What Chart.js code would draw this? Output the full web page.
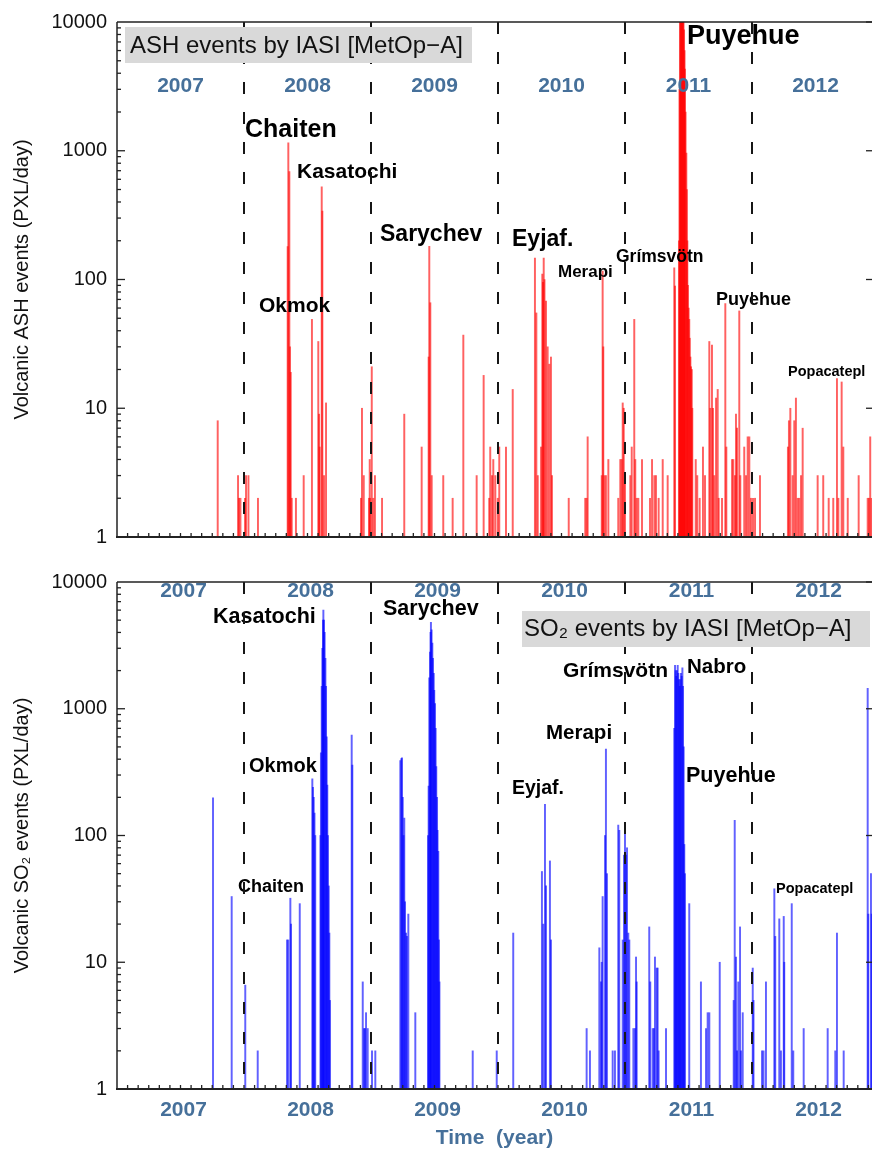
<!DOCTYPE html>
<html>
<head>
<meta charset="utf-8">
<script src="https://cdn.jsdelivr.net/npm/chart.js@4.4.1/dist/chart.umd.min.js"></script>
<style>
  body { margin: 0; background: #fff; }
  #wrap { position: relative; width: 872px; height: 1151px; }
  canvas { position: absolute; left: 0; }
</style>
</head>
<body>
<div id="wrap">
  <canvas id="ashChart" width="872" height="560" style="top:0;width:872px;height:560px"></canvas>
  <canvas id="so2Chart" width="872" height="591" style="top:560px;width:872px;height:591px"></canvas>
</div>
<script>
// ASH events (decimal year, pixels per day)
const ashYears = [
  2007.793, 2007.953, 2007.961, 2007.972, 2008.008, 2008.016, 2008.035, 2008.110,
  2008.344, 2008.349, 2008.357, 2008.362, 2008.368, 2008.376, 2008.409, 2008.470, 2008.535,
  2008.585, 2008.591, 2008.596, 2008.612, 2008.617, 2008.630, 2008.646,
  2008.921, 2008.929, 2008.943, 2008.984, 2008.990, 2008.994, 2009.006, 2009.018, 2009.031, 2009.087,
  2009.262, 2009.399, 2009.454, 2009.459, 2009.467, 2009.478,
  2009.569, 2009.643, 2009.727, 2009.832, 2009.887,
  2009.931, 2009.939, 2009.953, 2009.963, 2009.979, 2009.998, 2010.010, 2010.063, 2010.116,
  2010.291, 2010.302, 2010.313, 2010.339, 2010.349, 2010.354, 2010.360, 2010.366, 2010.378, 2010.391, 2010.404, 2010.417, 2010.425,
  2010.557, 2010.687, 2010.698, 2010.706,
  2010.817, 2010.824, 2010.829, 2010.837, 2010.850, 2010.869,
  2010.947, 2010.963, 2010.974, 2010.982, 2010.990, 2011.000,
  2011.042, 2011.053, 2011.073, 2011.081, 2011.092, 2011.105, 2011.134,
  2011.197, 2011.213, 2011.231, 2011.244, 2011.265, 2011.297, 2011.336,
  2011.388, 2011.394,
  2011.425, 2011.429, 2011.433, 2011.437, 2011.441, 2011.445, 2011.449, 2011.453, 2011.457, 2011.461,
  2011.465, 2011.469, 2011.472, 2011.477, 2011.483, 2011.487, 2011.491, 2011.496, 2011.501, 2011.506,
  2011.510, 2011.515, 2011.520, 2011.526, 2011.530,
  2011.557, 2011.569, 2011.588, 2011.614, 2011.630,
  2011.664, 2011.672, 2011.685, 2011.693, 2011.703, 2011.717, 2011.730, 2011.738,
  2011.764, 2011.790, 2011.798,
  2011.843, 2011.853, 2011.866, 2011.874, 2011.882, 2011.900, 2011.908,
  2011.939, 2011.953, 2011.966, 2011.979, 2011.992, 2012.008, 2012.024, 2012.063,
  2012.283, 2012.291, 2012.302, 2012.320, 2012.333, 2012.346, 2012.360, 2012.372, 2012.386, 2012.399,
  2012.517, 2012.561, 2012.604, 2012.640, 2012.669, 2012.680, 2012.706, 2012.719, 2012.754, 2012.840,
  2012.911, 2012.921, 2012.931, 2012.941
];
const ashValues = [
  8, 3, 2, 2, 2, 3, 3, 2,
  180, 1150, 690, 30, 19, 2, 2, 3, 49,
  33, 9, 5, 525, 340, 3, 11,
  2, 10, 3, 2, 4, 2, 21, 2, 3, 2,
  9, 5, 25, 181, 66, 3,
  3, 2, 37, 3, 18,
  2, 5, 3, 4, 3, 2, 5, 5, 14,
  147, 55, 3, 5, 110, 95, 147, 100, 68, 30, 22, 25, 3,
  2, 2, 2, 6,
  3, 116, 30, 3, 3, 4,
  2, 4, 4, 11, 10, 3,
  3, 5, 49, 4, 2, 2, 4,
  2, 4, 3, 3, 2, 4, 3,
  123, 89,
  200, 3000, 12000, 12000, 12000, 12000, 12000, 12000, 11000, 10000,
  8700, 6000, 4300, 2000, 960, 500, 200, 90, 60, 49,
  35, 25, 21, 20, 10,
  4, 3, 2, 5, 3,
  33, 10, 31, 10, 3, 12, 14, 2,
  2, 65, 5,
  4, 4, 3, 9, 7, 57, 3,
  5, 3, 6, 6, 2, 2, 2, 3,
  5, 8, 10, 3, 8, 12, 2, 2, 3, 7,
  3, 3, 2, 2, 17, 2, 16, 5, 2, 3,
  2, 2, 6, 2
];

// SO2 events (decimal year, pixels per day)
const so2Years = [
  2007.756, 2007.903, 2008.010, 2008.108,
  2008.339, 2008.349, 2008.365, 2008.370, 2008.439,
  2008.538, 2008.543, 2008.549, 2008.555, 2008.561,
  2008.602, 2008.606, 2008.612, 2008.617, 2008.622, 2008.625, 2008.630, 2008.635,
  2008.641, 2008.646, 2008.651, 2008.656, 2008.661, 2008.667, 2008.672, 2008.677,
  2008.848, 2008.853,
  2008.935, 2008.945, 2008.953, 2008.961, 2008.974, 2009.008, 2009.034,
  2009.231, 2009.239, 2009.244, 2009.250, 2009.256, 2009.262, 2009.268, 2009.276, 2009.283, 2009.294, 2009.349,
  2009.449, 2009.454, 2009.459, 2009.465, 2009.469, 2009.472, 2009.477, 2009.483, 2009.488, 2009.494,
  2009.498, 2009.504, 2009.509, 2009.514, 2009.520, 2009.524, 2009.530, 2009.535, 2009.539,
  2009.801, 2009.990, 2010.120,
  2010.346, 2010.357, 2010.370, 2010.378, 2010.409, 2010.417,
  2010.698, 2010.724,
  2010.798, 2010.811, 2010.817, 2010.824, 2010.843, 2010.850, 2010.858,
  2010.903, 2010.921,
  2010.947, 2010.955, 2010.982, 2010.992, 2011.000, 2011.008, 2011.016, 2011.026, 2011.034,
  2011.066, 2011.079, 2011.087, 2011.092,
  2011.191, 2011.199, 2011.218, 2011.228, 2011.236, 2011.250, 2011.257, 2011.265, 2011.323,
  2011.388, 2011.394, 2011.399, 2011.404, 2011.409, 2011.415, 2011.420, 2011.425, 2011.431,
  2011.435, 2011.441, 2011.446, 2011.452, 2011.457, 2011.462, 2011.467, 2011.472,
  2011.506, 2011.598, 2011.638, 2011.651, 2011.664, 2011.746,
  2011.856, 2011.864, 2011.874, 2011.882, 2011.892, 2011.906, 2011.913, 2011.927,
  2012.006, 2012.012, 2012.079, 2012.091, 2012.110,
  2012.176, 2012.183, 2012.215, 2012.228, 2012.250, 2012.254, 2012.313, 2012.325,
  2012.407, 2012.596, 2012.656, 2012.669, 2012.722,
  2012.911, 2012.916, 2012.937, 2012.943
];
const so2Values = [
  198, 33, 6.6, 2,
  15, 15, 32, 20, 29,
  280, 240, 200, 150, 100,
  100, 450, 1500, 3000, 5000, 6000, 5000, 4000,
  2500, 1500, 600, 250, 100, 40, 17, 5,
  620, 360,
  7, 3, 3, 4, 3, 2, 2,
  390, 405, 410, 200, 100, 137, 30, 17, 16, 24, 4,
  100, 245, 1750, 2800, 4000, 4800, 4200, 3300, 2500, 1900,
  1400, 1100, 700, 350, 200, 110, 75, 15, 7,
  2, 2, 17,
  52, 20, 176, 40, 63, 15,
  3, 2,
  13, 7, 10, 33, 100, 480, 50,
  2, 2,
  121, 110, 15, 70, 107, 70, 80, 17, 15,
  3, 3, 11, 7,
  19, 7, 3, 3, 11, 9, 9, 2, 3,
  700, 2200, 2000, 1800, 2000, 2200, 1900, 1700, 1500,
  1700, 1900, 1800, 2100, 1500, 500, 85, 50,
  29, 7, 3, 4, 4, 10,
  5, 132, 11, 2, 7, 19, 2, 4,
  9, 5, 2, 2, 7,
  38, 16, 22, 2, 23, 10, 29, 2,
  3, 3, 2, 17, 2,
  1450, 24, 50, 24
];

const yearNames = [2007, 2008, 2009, 2010, 2011, 2012];
const yearBounds = [2008, 2009, 2010, 2011, 2012];
const logTicks = [1, 10, 100, 1000, 10000];

const FONT = "'Liberation Sans', Arial, Helvetica, sans-serif";
const YEAR_BLUE = '#46709a';

// frame, inward ticks, dashed year lines, title box and eruption names
const framePlugin = {
  id: 'frame',
  afterDatasetsDraw(chart, args, o) {
    const { ctx, chartArea: a, scales: { x, y } } = chart;
    const line = (x1, y1, x2, y2) => { ctx.beginPath(); ctx.moveTo(x1, y1); ctx.lineTo(x2, y2); ctx.stroke(); };
    ctx.save();

    ctx.fillStyle = YEAR_BLUE;
    ctx.font = `bold 21px ${FONT}`;
    ctx.textAlign = 'center';
    ctx.textBaseline = 'middle';
    yearNames.forEach(yr => ctx.fillText(String(yr), x.getPixelForValue(yr + 0.5) + o.yearShift, o.yearY));

    ctx.fillStyle = '#000';
    ctx.textAlign = 'left';
    ctx.textBaseline = 'alphabetic';
    o.names.forEach(([t, px, py, size]) => {
      ctx.font = `bold ${size}px ${FONT}`;
      ctx.fillText(t, px, py - o.top);
    });

    ctx.strokeStyle = '#161616';
    ctx.lineWidth = 2;
    ctx.setLineDash([12, 18]);
    yearBounds.forEach(yr => {
      const px = Math.round(x.getPixelForValue(yr));
      line(px, a.top, px, a.bottom);
    });
    ctx.setLineDash([]);

    ctx.strokeStyle = '#222';
    ctx.lineWidth = 1.3;
    for (let d = 0; d < 4; d++) {
      for (let m = 1; m <= 9; m++) {
        const py = y.getPixelForValue(m * Math.pow(10, d));
        line(a.left, py, a.left + (m === 1 ? 8 : 4), py);
      }
    }
    logTicks.forEach(v => {
      const py = y.getPixelForValue(v);
      line(a.right - 6, py, a.right, py);
    });
    for (let k = 1; k < 72; k++) {
      const t = 2007 + k / 12;
      if (t >= x.max) break;
      const px = x.getPixelForValue(t);
      line(px, a.bottom, px, a.bottom - 4);
    }
    ctx.lineWidth = 1.5;
    line(a.left, a.top, a.right, a.top);
    line(a.left, a.top, a.left, a.bottom);
    ctx.lineWidth = 2.2;
    line(a.left - 1, a.bottom, a.right, a.bottom);

    const [bx, by, bw, bh] = o.box;
    ctx.fillStyle = '#d9d9d9';
    ctx.fillRect(bx, by - o.top, bw, bh);
    ctx.fillStyle = '#111';
    ctx.font = `24px ${FONT}`;
    ctx.fillText(o.title, o.titleX, o.titleY - o.top);

    ctx.restore();
  }
};

function makeChart(id, years, values, color, cfg) {
  return new Chart(document.getElementById(id), {
    type: 'bar',
    data: {
      datasets: [{
        data: years.map((t, i) => ({ x: t, y: values[i] })),
        backgroundColor: color,
        borderWidth: 0,
        barThickness: 1.3,
        grouped: false
      }]
    },
    options: {
      responsive: false,
      animation: false,
      devicePixelRatio: 1,
      layout: { padding: cfg.padding },
      plugins: {
        legend: { display: false },
        tooltip: { enabled: false },
        frame: cfg.frame
      },
      scales: {
        x: {
          type: 'linear',
          min: 2007,
          max: 2012.945,
          offset: false,
          display: cfg.showX,
          grid: { display: false },
          border: { display: false },
          afterBuildTicks: s => { s.ticks = yearNames.map(v => ({ value: v + 0.5 })); },
          afterFit: s => { if (cfg.showX) s.height = 62; },
          ticks: {
            autoSkip: false,
            maxRotation: 0,
            padding: 1,
            labelOffset: 3,
            color: YEAR_BLUE,
            font: { family: FONT, size: 21, weight: 'bold' },
            callback: v => String(Math.floor(v))
          },
          title: {
            display: true,
            text: 'Time  (year)',
            color: YEAR_BLUE,
            padding: { top: 0, bottom: 0 },
            font: { family: FONT, size: 21, weight: 'bold' }
          }
        },
        y: {
          type: 'logarithmic',
          min: 1,
          max: 10000,
          grid: { display: false, drawTicks: false },
          border: { display: false },
          afterFit: s => { s.width = 117; },
          ticks: {
            autoSkip: false,
            padding: 10,
            color: '#111',
            font: { family: FONT, size: 20 },
            callback: v => logTicks.includes(v) ? String(v) : null
          },
          title: {
            display: true,
            text: cfg.yTitle,
            color: '#111',
            padding: { top: 10, bottom: 0 },
            font: { family: FONT, size: 20 }
          }
        }
      }
    },
    plugins: [framePlugin]
  });
}

makeChart('ashChart', ashYears, ashValues, 'rgba(255, 0, 0, 0.62)', {
  padding: { top: 20, bottom: 23, left: 0, right: 0 },
  showX: false,
  yTitle: 'Volcanic ASH events (PXL/day)',
  frame: {
    top: 0,
    yearY: 86,
    yearShift: 0,
    box: [125, 27, 347, 36],
    title: 'ASH events by IASI [MetOp\u2212A]',
    titleX: 130,
    titleY: 53,
    names: [
      ['Chaiten', 245, 137, 25],
      ['Kasatochi', 297, 178, 21],
      ['Sarychev', 380, 241, 23],
      ['Okmok', 259, 312, 21],
      ['Eyjaf.', 512, 246, 23],
      ['Merapi', 558, 277, 17],
      ['Grímsvötn', 616, 262, 17.5],
      ['Puyehue', 687, 44, 27],
      ['Puyehue', 716, 305, 18],
      ['Popacatepl', 788, 376, 14.5]
    ]
  }
});

makeChart('so2Chart', so2Years, so2Values, 'rgba(0, 0, 255, 0.62)', {
  padding: { top: 12, bottom: 0, left: 0, right: 0 },
  showX: true,
  yTitle: 'Volcanic SO\u2082 events (PXL/day)',
  frame: {
    top: 560,
    yearY: 31,
    yearShift: 3,
    box: [522, 611, 348, 36],
    title: 'SO\u2082 events by IASI [MetOp\u2212A]',
    titleX: 524,
    titleY: 636,
    names: [
      ['Kasatochi', 213, 623, 21.5],
      ['Sarychev', 383, 615, 21.5],
      ['Okmok', 249, 772, 20],
      ['Chaiten', 238, 892, 18],
      ['Eyjaf.', 512, 794, 19.5],
      ['Merapi', 546, 739, 20.5],
      ['Grímsvötn', 563, 677, 21],
      ['Nabro', 687, 673, 20.5],
      ['Puyehue', 686, 782, 21.5],
      ['Popacatepl', 776, 893, 14.5]
    ]
  }
});
</script>
</body>
</html>
